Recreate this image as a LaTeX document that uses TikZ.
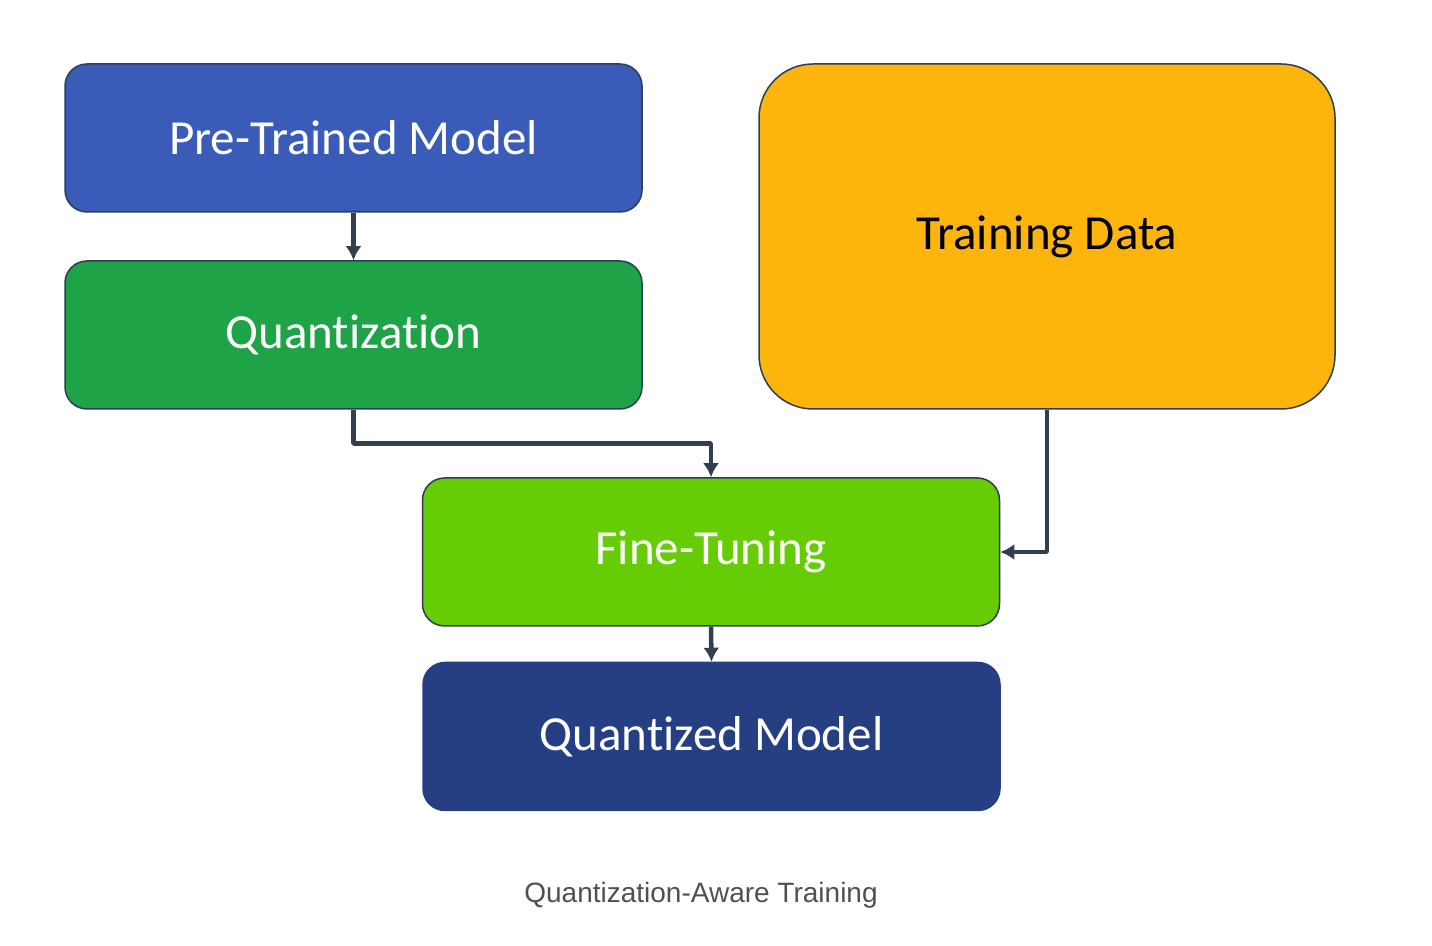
\documentclass[tikz,border=0pt]{standalone}
\usepackage{fontspec}
\setmainfont{Carlito}[Ligatures={NoCommon}]
\newfontfamily\capfont{Liberation Sans}
\usetikzlibrary{arrows.meta}
\definecolor{ptblue}{HTML}{3A5CB8}
\definecolor{qgreen}{HTML}{1EA446}
\definecolor{tdorange}{HTML}{FDB40C}
\definecolor{ftlime}{HTML}{66CC05}
\definecolor{qmnavy}{HTML}{253F82}
\definecolor{edgeline}{HTML}{2C3E56}
\definecolor{arrowline}{HTML}{323F4F}
\definecolor{captiongray}{HTML}{505050}
\begin{document}
\begin{tikzpicture}[>={Latex[length=7bp,width=8bp]},line join=bevel,
    box/.style={draw=edgeline,line width=0.75bp,rounded corners=11bp,
      minimum width=288.5bp,minimum height=74bp,text=white,
      font=\fontsize{24.5bp}{28bp}\selectfont},
    link/.style={->,draw=arrowline,line width=2.25bp}]
    %%
    \useasboundingbox (0bp,0bp) rectangle (716bp,473bp);
    \node (pt) at (176.75bp,404.0bp) [box,fill=ptblue] {Pre-Trained Model};
    \node (q) at (176.75bp,305.5bp) [box,fill=qgreen] {Quantization};
    \node (td) at (523.5bp,354.75bp) [box,fill=tdorange,text=black,
      minimum width=288bp,minimum height=172.5bp,rounded corners=27bp] {Training Data};
    \node (ft) at (355.5bp,197.0bp) [box,fill=ftlime] {Fine-Tuning};
    \node (qm) at (355.75bp,104.75bp) [box,fill=qmnavy,draw=qmnavy] {Quantized Model};
    \node (cap) at (350.5bp,25.5bp) [text=captiongray,font=\capfont\fontsize{14bp}{16bp}\selectfont] {Quantization-Aware Training};
    \draw [link] (pt.south) -- (q.north);
    \draw [link] (q.south) -- ++(0,-17bp) -| (ft.north);
    \draw [link] (td.south) |- (ft.east);
    \draw [link] (ft.south) -- (qm.north);
    %
\end{tikzpicture}
\end{document}
